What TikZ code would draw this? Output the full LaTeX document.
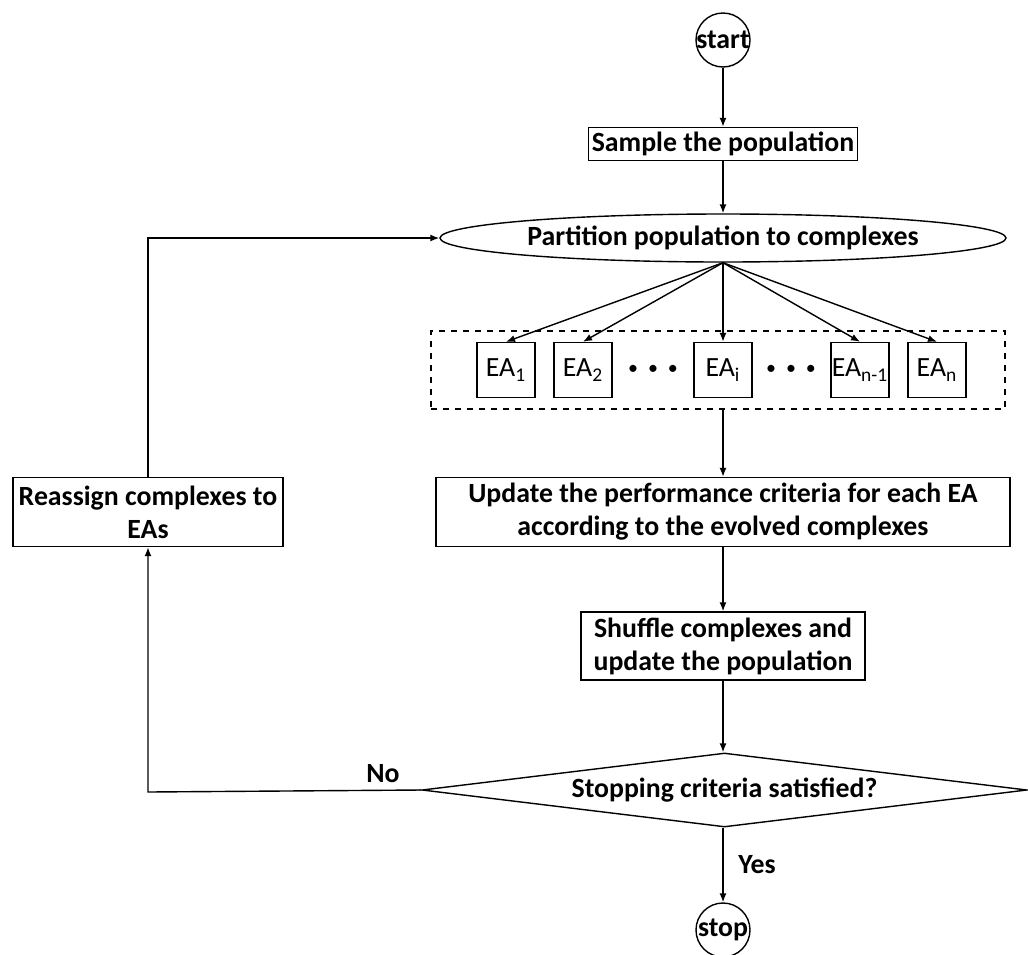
\documentclass[tikz,border=0pt]{standalone}
\usepackage{fontspec}
\setmainfont{Carlito}
\usetikzlibrary{shapes.geometric,arrows.meta}

\tikzset{
  term/.style={draw, circle, minimum size=27pt, inner sep=0pt},
  stepbox/.style={draw, rectangle, inner sep=1pt, align=center},
  eabox/.style={draw, rectangle, minimum width=29pt, minimum height=27.5pt, inner sep=0pt, font=\fontsize{13.9}{16}\selectfont},
  dotrow/.style={font=\fontsize{10}{12}\selectfont},
}

\begin{document}
\begin{tikzpicture}[x=0.5pt, y=-0.5pt, >={Latex[length=4.5pt,width=3.5pt]}, line width=0.7pt,
  every node/.style={font=\fontsize{13.9}{16.5}\selectfont\bfseries}]
  \useasboundingbox (0,0) rectangle (1028,954);

  % 1. main column
  \node[term, label=center:start] (start) at (723,40) {};
  \node[stepbox, minimum width=134.5pt, minimum height=16.5pt] (sample) at (723,144) {Sample the population};
  \node[draw, ellipse, minimum width=283pt, minimum height=24pt, inner sep=0pt] (part) at (723,238) {Partition population to complexes};

  % 2. EA group
  \node[draw, dashed, line width=0.6pt, minimum width=287pt, minimum height=39pt, inner sep=0pt] (group) at (718,370) {};
  \node[eabox] (ea1) at (506,370) {EA\textsubscript{1}};
  \node[eabox] (ea2) at (583,370) {EA\textsubscript{2}};
  \node[eabox] (eai) at (723,370) {EA\textsubscript{i}};
  \node[eabox] (eam) at (860,370) {EA\textsubscript{n-1}};
  \node[eabox] (ean) at (937,370) {EA\textsubscript{n}};
  \node[dotrow] (dotsa) at (653,370) {\textbullet\enspace\textbullet\enspace\textbullet};
  \node[dotrow] (dotsb) at (791,370) {\textbullet\enspace\textbullet\enspace\textbullet};

  \node[stepbox, minimum width=287pt, minimum height=34.5pt] (update) at (723,512) {Update the performance criteria for each EA\\according to the evolved complexes};
  \node[stepbox, minimum width=142pt, minimum height=34pt] (shuffle) at (723,646) {Shuffle complexes and\\update the population};
  \node[draw, diamond, aspect=8, minimum width=302.5pt, minimum height=37pt, inner sep=0pt] (check) at (724.5,790) {Stopping criteria satisfied?};
  \node[term, label=center:stop] (stop) at (723,930) {};

  % 3. left loop
  \node[stepbox, minimum width=135pt, minimum height=34.5pt] (reassign) at (148,512) {Reassign complexes to\\EAs};
  \coordinate (cornerlo) at (148,792);
  \coordinate (cornerhi) at (148,238);

  % 4. connectors
  \draw[->] (start) -- (sample);
  \draw[->] (sample) -- (part);
  \foreach \t in {ea1,ea2,eai,eam,ean}
    \draw[->] (part.south) -- (\t.north);
  \draw[->] (group.south -| eai) -- (update.north -| eai);
  \draw[->] (update) -- (shuffle);
  \draw[->] (shuffle.south) -- (shuffle.south |- check.north);
  \draw[->] (check.south -| stop) -- node[right=4pt] {Yes} (stop);
  \draw[->] (check.west) -- node[above, pos=0.14] {No} (cornerlo) -- (reassign.south);
  \draw[->] (reassign.north) -- (cornerhi) -- (part.west);
\end{tikzpicture}
\end{document}
